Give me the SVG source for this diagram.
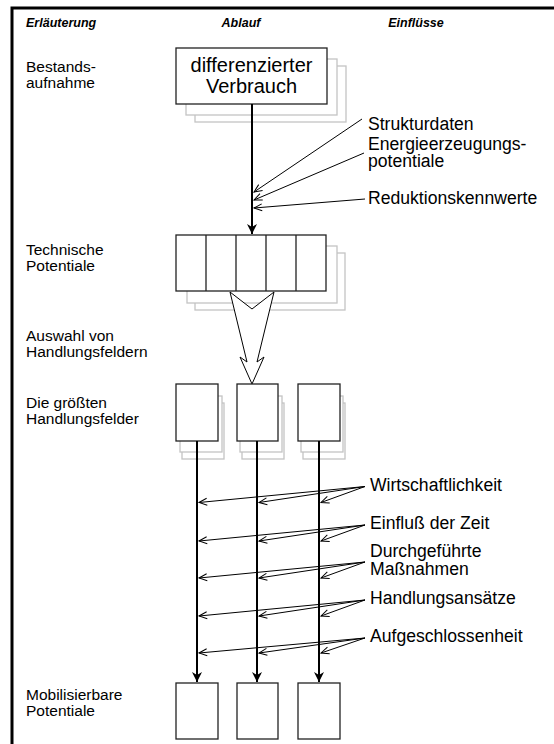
<svg xmlns="http://www.w3.org/2000/svg" width="554" height="744" viewBox="0 0 554 744">
<style>
text{font-family:"Liberation Sans",Arial,sans-serif;fill:#000}
.hd{font-size:12.5px;font-weight:bold;font-style:italic}
.lb{font-size:15.5px}
.inf{font-size:17.6px}
.box{fill:#fff;stroke:#222;stroke-width:1.3}
.sh{fill:#fff;stroke:#c4c4c4;stroke-width:1.3}
.flow{stroke:#000;stroke-width:2;fill:none}
.infl{stroke:#000;stroke-width:1;fill:none}
</style>
<defs>
<marker id="fa" markerUnits="userSpaceOnUse" markerWidth="12" markerHeight="12" refX="0" refY="0" orient="auto" overflow="visible"><path d="M-10,-5 L0,0 L-10,5 L-7,0 z" fill="#000"/></marker>
<marker id="oa" markerUnits="userSpaceOnUse" markerWidth="10" markerHeight="10" refX="0" refY="0" orient="auto" overflow="visible"><path d="M-8,-3.5 L0,0 L-8,3.5" fill="none" stroke="#000" stroke-width="1"/></marker>
</defs>
<rect width="554" height="744" fill="#fff"/>
<g id="frame"><path d="M12,744 V8 H554" fill="none" stroke="#000" stroke-width="3"/></g>
<g id="header">
<text class="hd" x="26" y="27">Erläuterung</text>
<text class="hd" x="241" y="27" text-anchor="middle">Ablauf</text>
<text class="hd" x="416" y="27" text-anchor="middle">Einflüsse</text>
</g>
<g id="labels">
<text class="lb" x="26" y="72">Bestands-</text>
<text class="lb" x="26" y="88">aufnahme</text>
<text class="lb" x="26" y="255">Technische</text>
<text class="lb" x="26" y="271">Potentiale</text>
<text class="lb" x="26" y="341">Auswahl von</text>
<text class="lb" x="26" y="357">Handlungsfeldern</text>
<text class="lb" x="26" y="408">Die größten</text>
<text class="lb" x="26" y="424">Handlungsfelder</text>
<text class="lb" x="26" y="700">Mobilisierbare</text>
<text class="lb" x="26" y="716">Potentiale</text>
</g>
<g id="n-verbrauch">
<rect class="sh" x="195" y="66" width="151" height="56"/>
<rect class="sh" x="186" y="59" width="151" height="56"/>
<rect class="box" x="176" y="48" width="151" height="56"/>
<text x="251.5" y="72" font-size="20" text-anchor="middle">differenzierter</text>
<text x="251.5" y="93" font-size="20" text-anchor="middle">Verbrauch</text>
</g>
<g id="n-technisch">
<rect class="sh" x="195" y="253" width="150" height="57"/>
<rect class="sh" x="187" y="246" width="150" height="57"/>
<rect class="box" x="176" y="235" width="150" height="56"/>
<path d="M206,235 V291 M236,235 V291 M266,235 V291 M296,235 V291" stroke="#222" stroke-width="1.3"/>
</g>
<g id="n-auswahl">
<polygon points="230,292 252,309 274,292 257,362 264,357 252,384 240,357 247,362" fill="#fff" stroke="#000" stroke-width="1"/>
</g>
<g id="n-feld1">
<rect class="sh" x="182" y="403" width="42" height="56"/>
<rect class="sh" x="180" y="396" width="42" height="56"/>
<rect class="box" x="176" y="384" width="42" height="57"/>
</g>
<g id="n-feld2">
<rect class="sh" x="242" y="403" width="42" height="56"/>
<rect class="sh" x="240" y="396" width="42" height="56"/>
<rect class="box" x="237" y="384" width="41" height="57"/>
</g>
<g id="n-feld3">
<rect class="sh" x="303" y="403" width="42" height="56"/>
<rect class="sh" x="301" y="396" width="42" height="56"/>
<rect class="box" x="298" y="384" width="42" height="57"/>
</g>
<g id="n-mob1"><rect class="box" x="176" y="683" width="42" height="56"/></g>
<g id="n-mob2"><rect class="box" x="237" y="683" width="41" height="56"/></g>
<g id="n-mob3"><rect class="box" x="298" y="683" width="42" height="56"/></g>
<g id="influences">
<text class="inf" x="368" y="130">Strukturdaten</text>
<text class="inf" x="368" y="150">Energieerzeugungs-</text>
<text class="inf" x="368" y="167">potentiale</text>
<text class="inf" x="368" y="204">Reduktionskennwerte</text>
<text class="inf" x="370" y="491">Wirtschaftlichkeit</text>
<text class="inf" x="370" y="529">Einfluß der Zeit</text>
<text class="inf" x="370" y="557">Durchgeführte</text>
<text class="inf" x="370" y="575">Maßnahmen</text>
<text class="inf" x="370" y="604">Handlungsansätze</text>
<text class="inf" x="370" y="642">Aufgeschlossenheit</text>
</g>
<g id="connectors">
<line class="flow" x1="252" y1="104" x2="252" y2="234" marker-end="url(#fa)"/>
<line class="flow" x1="197" y1="441" x2="197" y2="682" marker-end="url(#fa)"/>
<line class="flow" x1="257" y1="441" x2="257" y2="682" marker-end="url(#fa)"/>
<line class="flow" x1="319" y1="441" x2="319" y2="682" marker-end="url(#fa)"/>
<line class="infl" x1="362" y1="119" x2="254" y2="192" marker-end="url(#oa)"/>
<line class="infl" x1="364" y1="153" x2="254" y2="200" marker-end="url(#oa)"/>
<line class="infl" x1="365" y1="199" x2="254" y2="208" marker-end="url(#oa)"/>
<g id="c-wirt">
<line class="infl" x1="365" y1="486.5" x2="199" y2="502.5" marker-end="url(#oa)"/>
<line class="infl" x1="365" y1="486.5" x2="259" y2="502.5" marker-end="url(#oa)"/>
<line class="infl" x1="365" y1="486.5" x2="321" y2="502.5" marker-end="url(#oa)"/>
</g>
<g id="c-zeit">
<line class="infl" x1="365" y1="525" x2="199" y2="541" marker-end="url(#oa)"/>
<line class="infl" x1="365" y1="525" x2="259" y2="541" marker-end="url(#oa)"/>
<line class="infl" x1="365" y1="525" x2="321" y2="541" marker-end="url(#oa)"/>
</g>
<g id="c-mass">
<line class="infl" x1="365" y1="562" x2="199" y2="578" marker-end="url(#oa)"/>
<line class="infl" x1="365" y1="562" x2="259" y2="578" marker-end="url(#oa)"/>
<line class="infl" x1="365" y1="562" x2="321" y2="578" marker-end="url(#oa)"/>
</g>
<g id="c-hand">
<line class="infl" x1="365" y1="600" x2="199" y2="616" marker-end="url(#oa)"/>
<line class="infl" x1="365" y1="600" x2="259" y2="616" marker-end="url(#oa)"/>
<line class="infl" x1="365" y1="600" x2="321" y2="616" marker-end="url(#oa)"/>
</g>
<g id="c-auf">
<line class="infl" x1="365" y1="638" x2="199" y2="653" marker-end="url(#oa)"/>
<line class="infl" x1="365" y1="638" x2="259" y2="653" marker-end="url(#oa)"/>
<line class="infl" x1="365" y1="638" x2="321" y2="653" marker-end="url(#oa)"/>
</g>
</g>
</svg>
